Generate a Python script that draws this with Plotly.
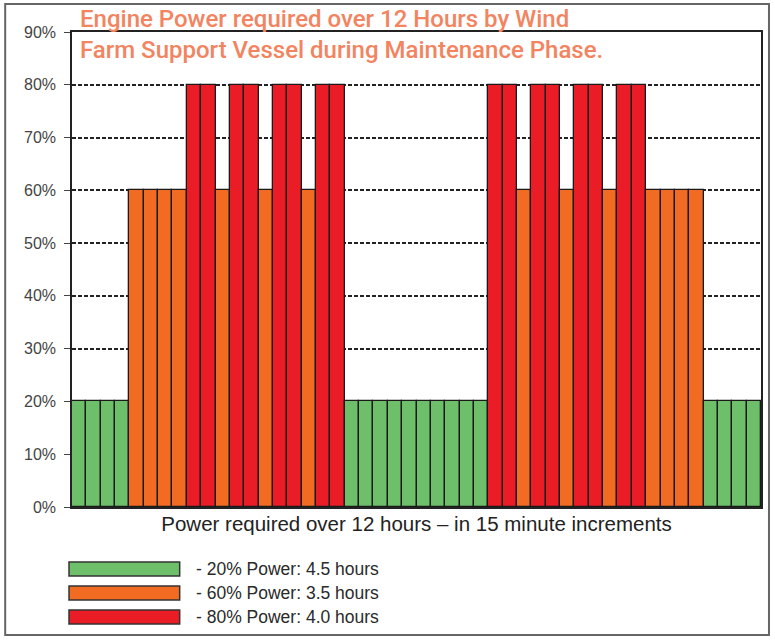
import plotly.graph_objects as go

# ---- data ----
increments = list(range(1, 49))  # 48 x 15-minute increments over 12 hours
power = [20, 20, 20, 20,
         60, 60, 60, 60,
         80, 80, 60, 80, 80, 60, 80, 80, 60, 80, 80,
         20, 20, 20, 20, 20, 20, 20, 20, 20, 20,
         80, 80, 60, 80, 80, 60, 80, 80, 60, 80, 80,
         60, 60, 60, 60,
         20, 20, 20, 20]
levels = [20, 60, 80]
level_labels = ["- 20% Power: 4.5 hours", "- 60% Power: 3.5 hours", "- 80% Power: 4.0 hours"]
y_ticks = [0, 10, 20, 30, 40, 50, 60, 70, 80, 90]
title_text = "Engine Power required over 12 Hours by Wind<br>Farm Support Vessel during Maintenance Phase."
x_title = "Power required over 12 hours – in 15 minute increments"

# ---- style ----
colors = {20: "#6DBF6A", 60: "#F26B23", 80: "#EA1D26"}
W, H = 775, 642
L, R, T, B = 72, 763, 32, 507  # plot area in pixels


def px_x(x):
    return (x - L) / (R - L)


def px_y(y):
    return (B - y) / (B - T)


fig = go.Figure()
fig.add_trace(go.Bar(
    x=increments,
    y=power,
    width=1,
    marker=dict(color=[colors[p] for p in power], line=dict(color="#1a1a1a", width=1.3)),
    showlegend=False,
    hoverinfo="y",
))

shapes = []
annotations = []

# outer frame
shapes.append(dict(type="rect", xref="paper", yref="paper",
                   x0=px_x(5), x1=px_x(771), y0=px_y(635), y1=px_y(4),
                   line=dict(color="#666666", width=2), fillcolor="rgba(0,0,0,0)", layer="below"))

# custom legend
legend_rows = [569, 593, 617]
for lv, lab, yc in zip(levels, level_labels, legend_rows):
    shapes.append(dict(type="rect", xref="paper", yref="paper",
                       x0=px_x(69), x1=px_x(180), y0=px_y(yc + 7), y1=px_y(yc - 7),
                       line=dict(color="#333333", width=1.5), fillcolor=colors[lv]))
    annotations.append(dict(xref="paper", yref="paper", x=px_x(194), y=px_y(yc),
                            xanchor="left", yanchor="middle", showarrow=False, text=lab,
                            font=dict(family="Liberation Sans, Arial, sans-serif", size=17.5, color="#2a2a2a")))

# title
annotations.append(dict(xref="paper", yref="paper", x=px_x(78), y=px_y(3),
                        xanchor="left", yanchor="top", align="left", showarrow=False,
                        text=title_text,
                        font=dict(family="Roboto, Liberation Sans, Arial, sans-serif",
                                  size=24, weight=500, color="#F2845F")))

fig.update_layout(
    width=W, height=H, autosize=False,
    margin=dict(l=L, r=W - R, t=T, b=H - B),
    paper_bgcolor="white", plot_bgcolor="white",
    bargap=0,
    shapes=shapes,
    annotations=annotations,
    showlegend=False,
    xaxis=dict(range=[0.5, 48.5], showticklabels=False, ticks="", showgrid=False, zeroline=False,
               showline=True, mirror=True, linecolor="#222222", linewidth=1.5,
               title=dict(text=x_title, standoff=9,
                          font=dict(family="Liberation Sans, Arial, sans-serif", size=20.5, color="#222222"))),
    yaxis=dict(range=[0, 90], tickvals=y_ticks, ticktext=[f"{v}%" for v in y_ticks],
               ticks="outside", ticklen=6, tickcolor="#444444", tickwidth=1,
               ticklabelstandoff=5,
               tickfont=dict(family="Liberation Sans, Arial, sans-serif", size=16, color="#444444"),
               showgrid=True, gridcolor="#222222", gridwidth=1.5, griddash="4px,2px",
               zeroline=False, showline=True, mirror=True, linecolor="#222222", linewidth=1.5),
)

fig.write_html("out.html", config={"displayModeBar": False},
               post_script="document.body.style.margin='0px';")
